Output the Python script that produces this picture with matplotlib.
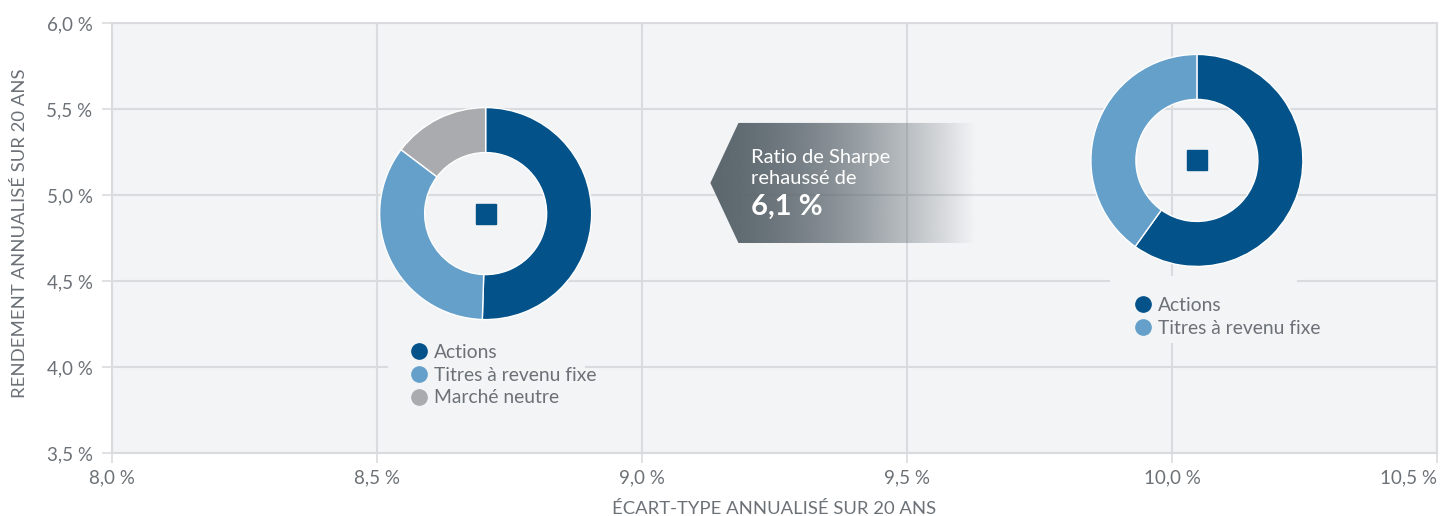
import numpy as np
import matplotlib
matplotlib.use("Agg")
import matplotlib.pyplot as plt
from matplotlib.patches import Wedge, Polygon, Rectangle
from matplotlib.lines import Line2D
import matplotlib.transforms as mtransforms

plt.rcParams['font.family'] = ['Lato', 'DejaVu Sans']

# ---- data ----
x_ticks = [8.0, 8.5, 9.0, 9.5, 10.0, 10.5]
y_ticks = [3.5, 4.0, 4.5, 5.0, 5.5, 6.0]
x_tick_labels = ["8,0 %", "8,5 %", "9,0 %", "9,5 %", "10,0 %", "10,5 %"]
y_tick_labels = ["3,5 %", "4,0 %", "4,5 %", "5,0 %", "5,5 %", "6,0 %"]

left_point = (8.705, 4.892)
left_labels = ["Actions", "Titres à revenu fixe", "Marché neutre"]
left_shares = [50.5, 34.8, 14.7]

right_point = (10.047, 5.201)
right_labels = ["Actions", "Titres à revenu fixe"]
right_shares = [59.9, 40.1]

sharpe_text = ["Ratio de Sharpe", "rehaussé de"]
sharpe_value = "6,1 %"

# ---- style ----
C_ACT = "#03528a"
C_FIX = "#65a0cb"
C_NEU = "#aaabae"
colors = {"Actions": C_ACT, "Titres à revenu fixe": C_FIX, "Marché neutre": C_NEU}
BG = "#f3f4f6"
GRID = "#d9dbde"
TXT = "#6b7176"

W, H = 1447, 516
fig = plt.figure(figsize=(W / 100, H / 100), dpi=100)
ax = fig.add_axes([112 / W, 1 - 453 / H, 1325 / W, 430 / H])
ax.set_facecolor(BG)
ax.set_xlim(x_ticks[0], x_ticks[-1])
ax.set_ylim(y_ticks[0], y_ticks[-1])
ax.set_xticks(x_ticks, x_tick_labels)
ax.set_yticks(y_ticks, y_tick_labels)
ax.grid(True, color=GRID, lw=1.5, zorder=0)
ax.set_axisbelow(True)
for s in ax.spines.values():
    s.set_color(GRID)
    s.set_linewidth(1.5)
ax.tick_params(axis='both', colors=GRID, labelcolor=TXT, labelsize=13.5,
               length=7, width=1.2)
ax.tick_params(axis='y', pad=7)
ax.tick_params(axis='x', pad=5)
# keep the last x tick label inside the canvas
ax.get_xticklabels()[-1].set_horizontalalignment('right')
ax.set_xlabel("ÉCART-TYPE ANNUALISÉ SUR 20 ANS", color=TXT, fontsize=13.3, labelpad=10)
ax.set_ylabel("RENDEMENT ANNUALISÉ SUR 20 ANS", color=TXT, fontsize=13.3)
ax.yaxis.set_label_coords((28 - 112) / 1325, 0.512)


def donut(point, labels, shares, r_out=1.06, r_in=0.61):
    trans = fig.dpi_scale_trans + mtransforms.ScaledTranslation(point[0], point[1], ax.transData)
    total = sum(shares)
    start = 90.0
    for lab, v in zip(labels, shares):
        ang = 360.0 * v / total
        w = Wedge((0, 0), r_out, start - ang, start, width=r_out - r_in,
                  facecolor=colors[lab], edgecolor="white", lw=1.0,
                  transform=trans, zorder=3)
        ax.add_patch(w)
        start -= ang
    ax.plot([point[0]], [point[1]], marker='s', ms=15, color=C_ACT, zorder=4, ls='none')


donut(left_point, left_labels, left_shares)
donut(right_point, right_labels, right_shares)


def legend_box(x0, y0, x1, y1):
    # background panel behind a legend (pixel box, top-left origin)
    r = Rectangle((x0 / W, 1 - y1 / H), (x1 - x0) / W, (y1 - y0) / H,
                  transform=fig.transFigure, facecolor=BG, edgecolor='none', zorder=1)
    ax.add_patch(r)


def make_legend(labels, anchor):
    handles = [Line2D([], [], marker='o', ls='none', ms=11, color=colors[l]) for l in labels]
    leg = ax.legend(handles, labels, loc='upper left', bbox_to_anchor=anchor,
                    bbox_transform=fig.transFigure, frameon=False, fontsize=13.9,
                    labelcolor=TXT, handlelength=0.8, handletextpad=0.35,
                    labelspacing=0.3, borderpad=0.4, borderaxespad=0)
    leg.set_zorder(5)
    return leg


legend_box(388, 328, 585, 414)
legend_box(1110, 276, 1297, 343)
leg1 = make_legend(left_labels, (404 / W, 1 - 336 / H))
ax.add_artist(leg1)
leg2 = make_legend(right_labels, (1128 / W, 1 - 289 / H))

# ---- gradient arrow ----
x_tip, x_corner, x_end = 9.129, 9.182, 9.63
y_top, y_bot = 5.419, 4.721
y_mid = (y_top + y_bot) / 2
poly = Polygon([(x_tip, y_mid), (x_corner, y_top), (x_end, y_top),
                (x_end, y_bot), (x_corner, y_bot)], closed=True,
               facecolor='none', edgecolor='none', transform=ax.transData)
ax.add_patch(poly)
n = 400
frac = np.linspace(0, 1, n)
alpha = np.clip(1 - frac ** 1.6, 0, 1)
base = np.array(matplotlib.colors.to_rgb("#5c676e"))
img = np.zeros((2, n, 4))
img[..., :3] = base
img[..., 3] = alpha
im = ax.imshow(img, extent=(x_tip, x_end, y_bot, y_top), aspect='auto',
               origin='lower', zorder=2, interpolation='bilinear')
im.set_clip_path(poly)

ax.text(9.205, 5.188, sharpe_text[0], color='white', fontsize=14.5, va='baseline', zorder=6)
ax.text(9.205, 5.062, sharpe_text[1], color='white', fontsize=14.5, va='baseline', zorder=6)
ax.text(9.205, 4.886, sharpe_value, color='white', fontsize=21, fontweight='bold',
        va='baseline', zorder=6)

ax.set_xlim(x_ticks[0], x_ticks[-1])
ax.set_ylim(y_ticks[0], y_ticks[-1])

fig.savefig("out.png", dpi=100, facecolor='white')
